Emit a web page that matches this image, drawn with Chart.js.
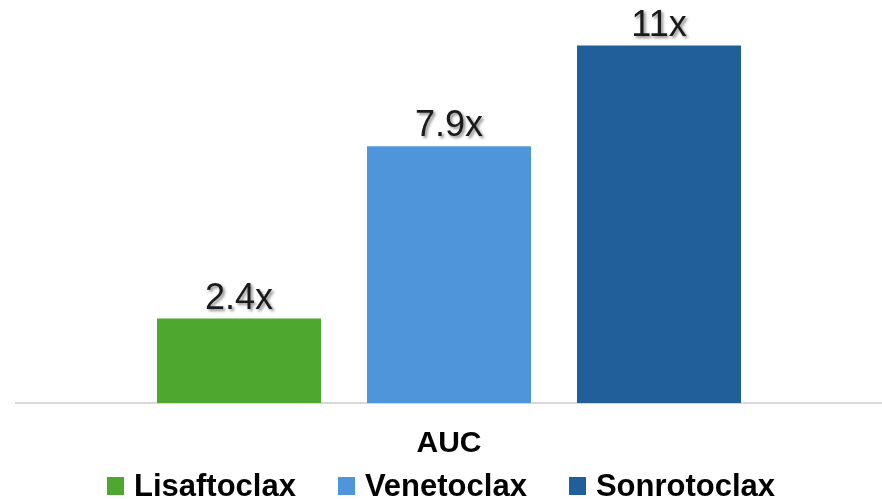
<!DOCTYPE html>
<html>
<head>
<meta charset="utf-8">
<script src="https://cdn.jsdelivr.net/npm/chart.js@4"></script>
<style>
    html, body { margin: 0; padding: 0; background: #ffffff; }
    #wrap { position: relative; width: 882px; height: 499px; }
    #legend {
        position: absolute; left: 0; top: 470px; width: 882px;
        text-align: center; white-space: nowrap;
        font: bold 31px "Liberation Sans", Arial, sans-serif; line-height: 31px; color: #000;
    }
    #legend .item { display: inline-block; margin: 0 21px; }
    #legend .box { display: inline-block; width: 17px; height: 18px; margin-right: 10px; vertical-align: 1px; }
</style>
</head>
<body>
<div id="wrap">
    <canvas id="grafica" width="882" height="499"></canvas>
    <div id="legend"></div>
</div>
<script>
const categorias = ["AUC"];
const farmacos = ["Lisaftoclax", "Venetoclax", "Sonrotoclax"];
const valores = [2.6, 7.9, 11];
const etiquetas = ["2.4x", "7.9x", "11x"];
const colores = ["#4EA72E", "#4E95D9", "#215F9A"];

// etiquetas encima de cada barra, con sombra
const etiquetasBarras = {
    id: "etiquetasBarras",
    afterDatasetsDraw(chart) {
        const ctx = chart.ctx;
        chart.data.datasets.forEach((ds, i) => {
            const bar = chart.getDatasetMeta(i).data[0];
            ctx.save();
            ctx.font = '36px "Liberation Sans", Arial, sans-serif';
            ctx.textAlign = "center";
            ctx.textBaseline = "alphabetic";
            ctx.fillStyle = "#1a1a1a";
            ctx.shadowColor = "rgba(0,0,0,0.45)";
            ctx.shadowOffsetX = 2;
            ctx.shadowOffsetY = 2;
            ctx.shadowBlur = 3;
            ctx.fillText(etiquetas[i], bar.x, bar.y - 10);
            ctx.restore();
        });
    }
};

const grafica = new Chart(
    "grafica",
    {
        type: "bar",
        data: {
            labels: categorias,
            datasets: farmacos.map((nombre, i) => ({
                label: nombre,
                data: [valores[i]],
                backgroundColor: colores[i],
                categoryPercentage: 0.7275,
                barPercentage: 0.781
            }))
        },
        plugins: [etiquetasBarras],
        options: {
            responsive: false,
            animation: false,
            layout: {
                padding: { top: 13, left: 16, right: 0, bottom: 14 }
            },
            scales: {
                x: {
                    grid: { display: false, drawTicks: false },
                    border: { display: true, color: "#d9d9d9", width: 2 },
                    ticks: {
                        color: "#000",
                        padding: 23,
                        font: { family: '"Liberation Sans", Arial, sans-serif', size: 30, weight: "bold" }
                    }
                },
                y: {
                    display: false,
                    min: 0,
                    max: 12
                }
            },
            plugins: {
                legend: { display: false },
                tooltip: { enabled: false }
            }
        }
    }
);

// leyenda
const leyenda = document.getElementById("legend");
farmacos.forEach((nombre, i) => {
    const item = document.createElement("span");
    item.className = "item";
    const box = document.createElement("span");
    box.className = "box";
    box.style.background = colores[i];
    item.appendChild(box);
    item.appendChild(document.createTextNode(nombre));
    leyenda.appendChild(item);
});
</script>
</body>
</html>
